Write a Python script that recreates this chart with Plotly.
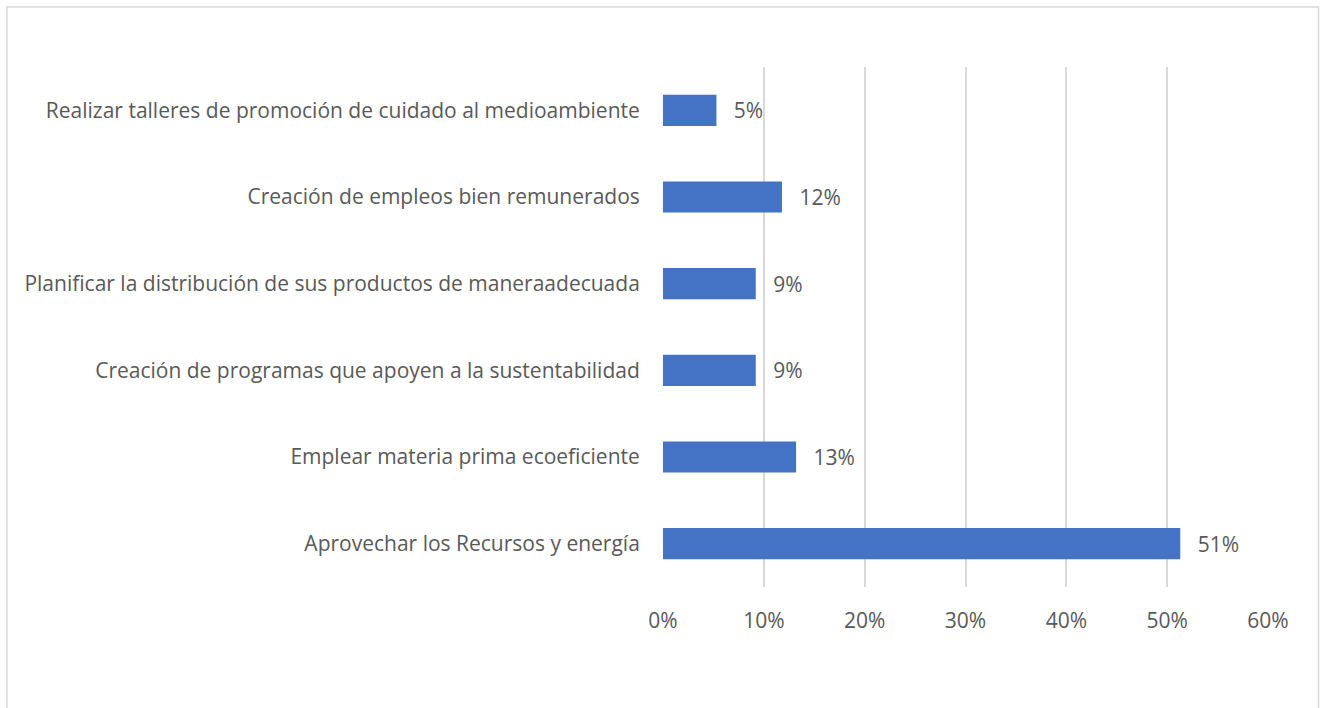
import plotly.graph_objects as go

categories = [
    "Realizar talleres de promoción de cuidado al medioambiente",
    "Creación de empleos bien remunerados",
    "Planificar la distribución de sus productos de maneraadecuada",
    "Creación de programas que apoyen a la sustentabilidad",
    "Emplear materia prima ecoeficiente",
    "Aprovechar los Recursos y energía",
]
values = [0.053, 0.118, 0.092, 0.092, 0.132, 0.513]
tick_vals = [0, 0.1, 0.2, 0.3, 0.4, 0.5, 0.6]
tick_text = ["0%", "10%", "20%", "30%", "40%", "50%", "60%"]

FONT = "Open Sans, sans-serif"
GRAY = "#595959"
FS = 21

fig = go.Figure(go.Bar(
    y=categories, x=values, orientation="h",
    marker=dict(color="#4472c4", line=dict(width=0)),
    texttemplate="\u00a0\u00a0\u2009%{x:.0%}", textposition="outside",
    textfont=dict(family=FONT, size=FS, color=GRAY),
    cliponaxis=False,
))

fig.update_layout(
    width=1321, height=708,
    margin=dict(l=663, r=53, t=67, b=121),
    paper_bgcolor="white", plot_bgcolor="white",
    bargap=0.64, showlegend=False,
    font=dict(family=FONT, size=FS, color=GRAY),
    xaxis=dict(range=[0, 0.6], tickvals=tick_vals, ticktext=tick_text,
               showgrid=True, gridcolor="#d9d9d9", gridwidth=1.5,
               zeroline=False, showline=False,
               ticks="outside", ticklen=15, tickcolor="rgba(0,0,0,0)",
               tickfont=dict(family=FONT, size=FS, color=GRAY), fixedrange=True),
    yaxis=dict(autorange="reversed", showgrid=False, zeroline=False,
               showline=False, ticks="outside", ticklen=18,
               tickcolor="rgba(0,0,0,0)",
               tickfont=dict(family=FONT, size=FS, color=GRAY)),
    shapes=[dict(type="rect", xref="paper", yref="paper",
                 x0=(7 - 663) / 605, x1=(1318.5 - 663) / 605,
                 y0=-0.4, y1=(587 - 7) / 520,
                 line=dict(color="#d9d9d9", width=1.5), layer="below")],
)

fig.write_html("out.html", config={"displayModeBar": False},
               post_script="document.body.style.margin='0px';document.body.style.overflow='hidden';")
